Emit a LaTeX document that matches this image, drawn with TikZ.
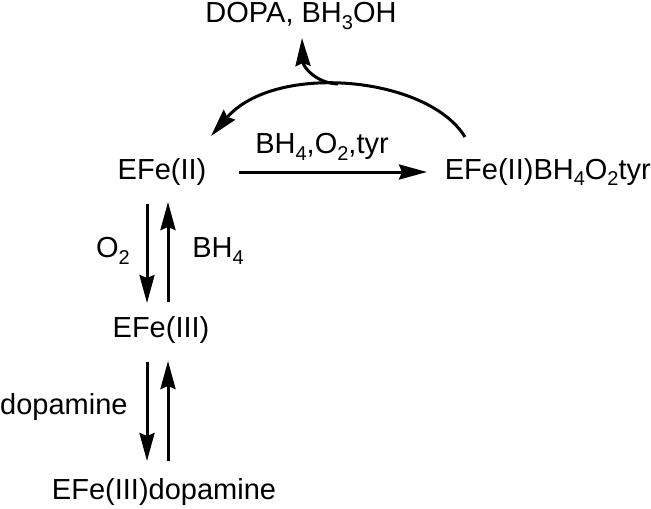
\documentclass[tikz,border=0pt]{standalone}
\usepackage{fontspec}
\setmainfont{Liberation Sans}
\usetikzlibrary{arrows.meta}
\newcommand\lowsub[1]{\raisebox{-0.45ex}{\fontsize{20}{21}\selectfont #1}}
\tikzset{
  lbl/.style={font=\fontsize{29}{31}\selectfont, inner sep=0pt},
  rxn/.style={line width=3pt, -{Stealth[length=28pt,width=15pt,inset=3pt]}},
}
\begin{document}
\begin{tikzpicture}[x=1pt,y=-1pt]
\useasboundingbox (0,0) rectangle (651,509);
\node[lbl] (dopa) at (301,16) {DOPA, BH\lowsub{3}OH};
\node[lbl] (e2) at (162,172) {EFe(II)};
\node[lbl, anchor=east] (cplx) at (651,172) {EFe(II)BH\lowsub{4}O\lowsub{2}tyr};
\node[lbl] (cond) at (322,147) {BH\lowsub{4},O\lowsub{2},tyr};
\node[lbl] (e3) at (161,330) {EFe(III)};
\node[lbl] (o2) at (113,251) {O\lowsub{2}};
\node[lbl] (bh4) at (218,251) {BH\lowsub{4}};
\node[lbl, anchor=west] (dop) at (0,407) {dopamine};
\node[lbl] (e3d) at (164,492) {EFe(III)dopamine};
\coordinate (hs) at (239,172);
\coordinate (he) at (427,172);
\draw[rxn] (hs) -- (he);
% vertical pair 1
\draw[rxn] (e2.south -| 147,0) ++(0,18) -- (147,303);
\draw[rxn] (e3.north -| 168,0) ++(0,-14) -- (168,202);
% vertical pair 2
\draw[rxn] (e3.south -| 147,0) ++(0,18) -- (147,461);
\draw[rxn] (e3d.north -| 168,0) ++(0,-17) -- (168,361);
% arc
\coordinate (as) at (465,137);
\coordinate (top) at (338,84);
\draw[rxn] (as) .. controls (428,76) and (275,62) .. (211,136);
\draw[rxn] (top) .. controls (315,83) and (303,66) .. (302,38);
\end{tikzpicture}
\end{document}
